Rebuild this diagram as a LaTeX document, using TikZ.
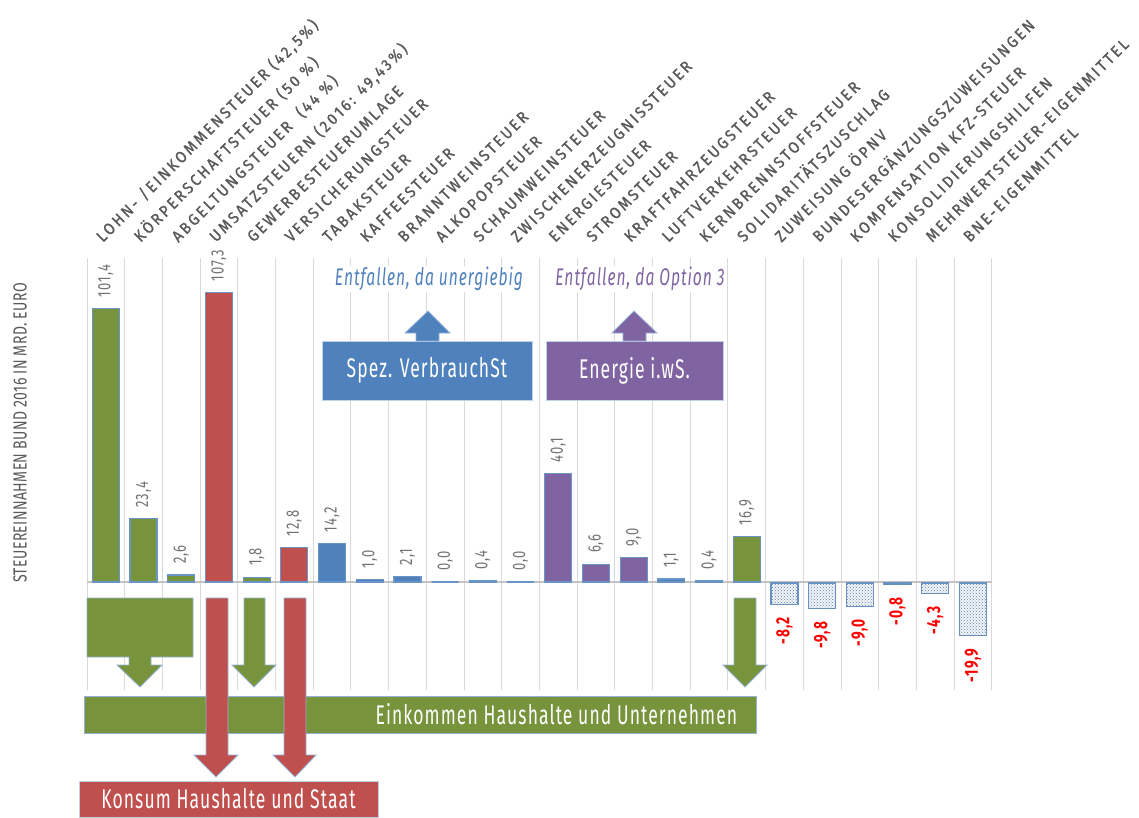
\documentclass[tikz,border=0pt]{standalone}
\usepackage{fontspec}
\setmainfont{Fira Sans}
\newfontfamily\agency{Fira Sans}[FakeStretch=0.72,LetterSpace=6]
\newfontfamily\agencytitle{Fira Sans}[FakeStretch=0.74,LetterSpace=2]
\newfontfamily\agencybox{Fira Sans}[FakeStretch=0.65,LetterSpace=4]
\newfontfamily\agencywide{Fira Sans}[FakeStretch=0.92,LetterSpace=16,FakeBold=1.2]
\usetikzlibrary{patterns}
\definecolor{barGreen}{HTML}{77933C}
\definecolor{barRed}{HTML}{C0504D}
\definecolor{barBlue}{HTML}{4F81BD}
\definecolor{barPurple}{HTML}{8064A2}
\definecolor{gridGray}{HTML}{D9D9D9}
\definecolor{textGray}{HTML}{595959}
\tikzset{gridline/.style={draw=gridGray, line width=1pt},
axisline/.style={draw=gridGray!90!black, line width=2pt},
bar/.style={draw=barBlue!85, line width=1.2pt},
negbar/.style={draw=barBlue!85, line width=1.2pt, fill=barBlue!8, postaction={pattern=crosshatch dots, pattern color=barBlue!55!gray}},
vallabel/.style={rotate=90, anchor=west, inner sep=0pt, text=textGray!85, font=\agency\fontsize{18}{18}\selectfont},
neglabel/.style={rotate=90, anchor=east, inner sep=0pt, text=red, font=\agency\bfseries\fontsize{19}{19}\selectfont},
catlabel/.style={rotate=45, anchor=base west, inner sep=0pt, text=textGray, font=\agencywide\fontsize{16}{16}\selectfont},
blockbox/.style={draw=white!65!barBlue, line width=0.8pt, text=white, font=\agencybox\fontsize{27}{27}\selectfont},
blockarrow/.style={draw=white!40!barBlue, line width=0.8pt},
notelabel/.style={fill=white, inner sep=1pt, font=\agencybox\itshape\fontsize{24}{24}\selectfont}}

\begin{document}
\begin{tikzpicture}[x=1pt,y=-1pt]
\useasboundingbox (0,0) rectangle (1139,817);

\foreach \i in {0,...,24}
  \draw[gridline] ({87+37.7*\i},258) -- ({87+37.7*\i},690);
\draw[axisline] (87,582) -- (992,582);

\node[rotate=90, text=textGray, font=\agencytitle\fontsize{19}{19}\selectfont] (ytitle) at (20,433) {STEUEREINNAHMEN BUND 2016 IN MRD. EURO};

\foreach \v/\c/\lab [count=\i] in {101.4/barGreen/{101,4}, 23.4/barGreen/{23,4}, 2.6/barGreen/{2,6}, 107.3/barRed/{107,3}, 1.8/barGreen/{1,8}, 12.8/barRed/{12,8}, 14.2/barBlue/{14,2}, 1.0/barBlue/{1,0}, 2.1/barBlue/{2,1}, 0.0/barBlue/{0,0}, 0.4/barBlue!20/{0,4}, 0.0/barBlue/{0,0}, 40.1/barPurple/{40,1}, 6.6/barPurple/{6,6}, 9.0/barPurple/{9,0}, 1.1/barBlue/{1,1}, 0.4/barBlue!20/{0,4}, 16.9/barGreen/{16,9}}
{
  \pgfmathsetmacro\cx{87+37.7*(\i-0.5)}
  \pgfmathsetmacro\barTop{582-2.7*\v}
  \draw[bar, fill=\c] ({\cx-13.5},582) rectangle ({\cx+13.5},\barTop);
  \node[vallabel] (val\i) at (\cx,{\barTop-11}) {\lab};
}

\foreach \v/\lab [count=\i from 19] in {8.2/{-8,2}, 9.8/{-9,8}, 9.0/{-9,0}, 0.8/{-0,8}, 4.3/{-4,3}, 19.9/{-19,9}}
{
  \pgfmathsetmacro\cx{87+37.7*(\i-0.5)}
  \pgfmathsetmacro\barBot{582+2.7*\v}
  \draw[negbar] ({\cx-13.5},583) rectangle ({\cx+13.5},\barBot);
  \node[neglabel] (val\i) at (\cx,{\barBot+13}) {\lab};
}

\foreach \cat [count=\i] in {{LOHN- /EINKOMMENSTEUER (42,5\%)}, {KÖRPERSCHAFTSTEUER (50 \%)}, {ABGELTUNGSTEUER \ (44 \%)}, {UMSATZSTEUERN (2016: 49,43\%)}, {GEWERBESTEUERUMLAGE}, {VERSICHERUNGSTEUER}, {TABAKSTEUER}, {KAFFEESTEUER}, {BRANNTWEINSTEUER}, {ALKOPOPSTEUER}, {SCHAUMWEINSTEUER}, {ZWISCHENERZEUGNISSTEUER}, {ENERGIESTEUER}, {STROMSTEUER}, {KRAFTFAHRZEUGSTEUER}, {LUFTVERKEHRSTEUER}, {KERNBRENNSTOFFSTEUER}, {SOLIDARITÄTSZUSCHLAG}, {ZUWEISUNG ÖPNV}, {BUNDESERGÄNZUNGSZUWEISUNGEN}, {KOMPENSATION KFZ-STEUER}, {KONSOLIDIERUNGSHILFEN}, {MEHRWERTSTEUER-EIGENMITTEL}, {BNE-EIGENMITTEL}}
  \node[catlabel] (cat\i) at ({87+37.7*(\i-0.5)-3},243) {\cat};

\node[notelabel, text=barBlue] (noteSpez) at (429,279) {Entfallen, da unergiebig};
\node[notelabel, text=barPurple] (noteEnergie) at (640,279) {Entfallen, da Option 3};

\node[blockbox, fill=barBlue, minimum width=210pt, minimum height=59pt] (spez) at (427,370.5) {Spez. VerbrauchSt};
\node[blockbox, fill=barPurple, minimum width=177pt, minimum height=59pt] (energie) at (634.5,370.5) {Energie i.wS.};
\draw[blockarrow, fill=barBlue] (416,341) -- (416,333) -- (405,333) -- (428,311) -- (450,333) -- (439,333) -- (439,341) -- cycle;
\draw[blockarrow, fill=barPurple] (623,341) -- (623,333) -- (612,333) -- (634,311) -- (657,333) -- (646,333) -- (646,341) -- cycle;

\draw[blockarrow, fill=barGreen] (87,598) -- (193,598) -- (193,657) -- (151,657) -- (151,665) -- (162,665) -- (140,687) -- (117,665) -- (129,665) -- (129,657) -- (87,657) -- cycle;
\draw[blockarrow, fill=barGreen] (244,598) -- (265,598) -- (265,665) -- (276,665) -- (254,687) -- (232,665) -- (244,665) -- cycle;
\draw[blockarrow, fill=barGreen] (734,598) -- (756,598) -- (756,665) -- (767,665) -- (745,687) -- (723,665) -- (734,665) -- cycle;

\draw[blockarrow, fill=barGreen] (84,696) rectangle (756,733);
\node[blockbox, draw=none, anchor=east] (einkommen) at (741,714.5) {Einkommen Haushalte und Unternehmen};

\draw[blockarrow, fill=barRed] (206,598) -- (228,598) -- (228,755) -- (238,755) -- (216,777) -- (194,755) -- (206,755) -- cycle;
\draw[blockarrow, fill=barRed] (284,598) -- (306,598) -- (306,755) -- (316,755) -- (295,777) -- (273,755) -- (284,755) -- cycle;

\node[blockbox, fill=barRed, minimum width=299pt, minimum height=36pt] (konsum) at (228.5,799) {Konsum Haushalte und Staat};
\end{tikzpicture}
\end{document}
